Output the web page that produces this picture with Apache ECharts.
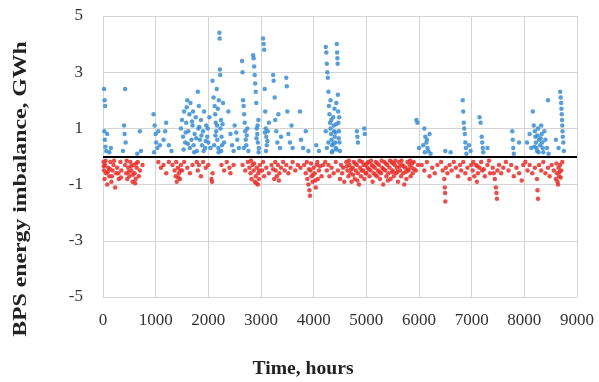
<!DOCTYPE html>
<html>
<head>
<meta charset="utf-8">
<script src="https://cdn.jsdelivr.net/npm/echarts@6/dist/echarts.min.js"></script>
<style>
  html, body { margin: 0; padding: 0; background: #fff; }
  #chart { width: 599px; height: 382px; }
</style>
</head>
<body>
<div id="chart"></div>
<script>
// hours, GWh (surplus, blue)
var surplus = [
  [20,2.4],[30,2.0],[40,1.8],[25,0.9],[35,0.6],[45,0.35],[60,0.2],[80,0.8],[120,0.15],[150,0.3],
  [420,2.4],[400,1.1],[410,0.8],[430,0.5],[380,0.2],
  [700,0.9],[720,0.2],[650,0.1],
  [960,1.5],[980,1.1],[1000,0.8],[1010,0.5],[1030,0.3],[970,0.15],[1050,0.9],[1080,0.4],
  [1200,1.2],[1150,0.6],[1250,0.4],[1300,0.2],[1180,0.9],
  [1480,1.0],[1500,1.3],[1520,0.7],[1540,1.6],[1560,0.5],[1580,1.2],[1600,2.0],[1620,0.9],[1640,1.5],
  [1650,0.3],[1660,1.9],[1680,0.6],[1700,1.1],[1720,0.4],[1740,0.8],[1760,1.4],[1780,0.2],[1800,2.3],
  [1810,1.0],[1820,1.8],[1840,0.6],[1860,1.3],[1880,0.4],[1900,0.9],[1920,1.6],[1940,0.3],[1960,1.1],
  [1980,0.7],[2000,0.5],[2020,1.4],
  [1530,0.25],[1570,0.85],[1610,0.45],[1690,1.25],[1730,0.15],[1770,0.65],[1830,1.05],[1870,0.75],
  [1910,0.2],[1950,0.55],[1990,1.0],[2040,0.3],[1590,1.75],[1710,1.6],
  [2080,2.7],[2100,2.1],[2120,1.8],[2130,1.5],[2140,1.2],[2150,0.9],[2160,2.4],[2170,0.6],[2180,1.7],
  [2190,0.3],[2200,2.0],[2210,4.4],[2215,4.2],[2220,3.1],[2225,2.9],[2230,1.0],[2240,1.3],[2250,0.7],
  [2260,0.4],[2280,1.9],[2300,0.5],[2110,0.4],[2135,0.75],[2165,1.1],[2195,0.15],[2245,0.2],[2270,1.15],
  [2380,1.6],[2420,0.8],[2450,0.4],[2500,1.1],[2550,0.6],[2580,0.3],[2480,0.2],[2530,0.85],
  [2640,3.4],[2650,3.0],[2660,2.0],[2670,1.8],[2680,1.5],[2690,1.2],[2700,0.9],[2710,0.6],[2720,0.4],
  [2740,1.0],[2760,0.2],[2675,0.3],[2730,0.75],
  [2850,3.6],[2860,3.5],[2870,3.2],[2880,2.9],[2890,2.6],[2900,2.3],[2910,1.9],[2920,1.0],[2930,0.8],
  [2940,0.5],[2950,1.3],[2960,0.3],[2915,0.65],[2935,1.1],[2955,0.15],
  [3040,4.2],[3050,4.0],[3060,3.8],[3070,2.4],[3080,1.6],[3090,1.0],[3100,0.7],[3110,0.4],[3130,0.9],[3150,1.2],
  [3075,0.85],[3095,0.2],[3120,0.55],
  [3230,2.9],[3240,2.7],[3260,2.1],[3270,1.3],[3290,0.9],[3310,0.5],[3330,1.5],[3360,0.3],[3380,0.7],
  [3480,2.8],[3490,2.5],[3500,1.6],[3520,0.8],[3550,0.5],[3580,1.1],[3600,0.3],
  [3740,1.6],[3760,0.6],[3800,0.3],[3850,0.9],[3900,0.2],
  [4050,0.4],[4100,0.2],
  [4230,3.9],[4240,3.7],[4250,3.3],[4260,3.0],[4270,2.8],[4280,2.3],[4290,1.8],[4300,1.5],[4310,1.2],
  [4320,1.0],[4330,0.8],[4340,0.6],[4350,0.4],[4360,0.2],[4370,1.4],[4380,1.1],[4390,0.9],[4400,0.7],
  [4410,0.5],[4420,0.3],[4430,1.9],[4440,4.0],[4445,3.7],[4450,3.5],[4455,3.3],[4460,2.2],[4465,1.6],
  [4470,1.2],[4480,0.9],[4490,0.5],[4500,0.2],[4230,0.9],[4250,0.3],[4320,2.0],[4280,0.5],
  [4335,1.3],[4345,0.15],[4375,0.45],[4395,1.7],[4415,0.85],[4425,1.15],[4435,0.25],[4475,0.65],[4485,1.4],
  [4820,0.9],[4830,0.7],[4840,0.5],[4960,1.0],[4970,0.8],
  [5950,1.3],[5970,1.2],[6000,0.3],[6100,1.0],[6120,0.7],[6140,0.5],[6160,0.3],[6180,0.2],[6200,0.8],
  [6220,0.1],[6080,0.4],[6110,0.15],[6150,0.6],
  [6500,0.2],[6600,0.15],
  [6830,2.0],[6840,1.6],[6850,1.2],[6860,1.0],[6870,0.8],[6880,0.5],[6890,0.3],[6900,0.1],[6950,0.4],[6980,0.2],
  [7150,1.4],[7170,1.2],[7190,0.7],[7200,0.5],[7210,0.3],[7220,0.15],[7300,0.3],
  [7770,0.9],[7780,0.6],[7790,0.3],[7800,0.1],[7900,0.5],
  [8050,0.5],[8100,0.8],[8130,0.3],[8160,1.6],[8180,1.1],[8200,0.9],[8210,0.7],[8220,0.5],[8230,0.3],
  [8240,0.2],[8260,1.0],[8280,0.6],[8300,0.4],[8320,1.1],[8330,0.8],[8340,0.5],[8350,0.3],[8360,0.15],
  [8380,0.9],[8400,0.6],[8450,2.0],[8430,0.3],[8460,0.1],[8190,0.35],[8250,0.75],[8270,0.15],[8310,0.65],
  [8680,2.3],[8690,2.1],[8700,1.9],[8705,1.7],[8710,1.5],[8715,1.3],[8720,1.1],[8725,0.9],[8730,0.7],
  [8740,0.5],[8750,0.2],[8650,0.3],[8600,0.6]
];

// hours, GWh (deficit, red)
var deficit = [
  [10,-0.2],[20,-0.5],[30,-0.8],[40,-0.3],[60,-0.6],[80,-1.0],[100,-0.4],[120,-0.7],[140,-0.2],[160,-0.9],
  [180,-0.5],[200,-0.3],[230,-1.1],[250,-0.6],[270,-0.4],[300,-0.8],[330,-0.2],[350,-0.5],
  [15,-0.35],[50,-0.15],[90,-0.55],[130,-0.45],[170,-0.7],[210,-0.15],[290,-0.6],[340,-0.75],
  [420,-0.3],[440,-0.6],[460,-0.8],[480,-0.4],[500,-0.7],[520,-0.2],[540,-0.5],[560,-0.9],[580,-0.3],
  [600,-0.6],[620,-0.8],[640,-0.4],[660,-0.2],[700,-0.5],[750,-0.3],
  [450,-0.15],[490,-0.55],[530,-0.35],[570,-0.65],[610,-0.95],[630,-0.25],[680,-0.7],
  [1050,-0.2],[1100,-0.4],[1150,-0.3],[1200,-0.6],[1250,-0.2],
  [1320,-0.3],[1360,-0.5],[1380,-0.7],[1400,-0.9],[1420,-0.4],[1440,-0.6],[1460,-0.8],[1480,-0.3],
  [1500,-0.5],[1540,-0.2],[1600,-0.4],[1650,-0.6],[1700,-0.3],[1390,-0.2],[1430,-0.75],[1470,-0.5],
  [1780,-0.2],[1800,-0.5],[1820,-0.3],[1860,-0.7],[1900,-0.2],[1950,-0.4],[2000,-0.3],[2060,-0.8],
  [2070,-0.9],[2080,-0.6],
  [2250,-0.3],[2300,-0.5],[2350,-0.2],[2400,-0.4],[2420,-0.6],[2480,-0.3],
  [2650,-0.3],[2700,-0.5],[2750,-0.2],[2780,-0.4],[2800,-0.6],[2820,-0.8],[2840,-0.3],[2860,-0.5],
  [2880,-0.9],[2900,-0.7],[2920,-0.4],[2940,-1.0],[2950,-0.6],[2960,-0.8],[2980,-0.3],
  [2810,-0.15],[2870,-0.25],[2910,-0.95],[2970,-0.5],
  [3020,-0.5],[3040,-0.2],[3060,-0.7],[3100,-0.4],[3150,-0.6],[3200,-0.3],[3250,-0.8],[3280,-0.5],
  [3300,-0.7],[3320,-0.3],[3350,-0.6],[3380,-0.4],[3230,-0.45],[3270,-0.2],[3340,-0.85],
  [3420,-0.2],[3450,-0.5],[3480,-0.3],[3520,-0.6],[3560,-0.4],[3600,-0.2],[3650,-0.5],[3700,-0.3],[3750,-0.4],
  [3820,-0.3],[3850,-0.6],[3880,-0.8],[3900,-1.0],[3920,-1.2],[3930,-1.4],[3940,-0.5],[3960,-0.7],
  [3980,-0.9],[4000,-0.4],[4020,-0.6],[4040,-1.1],[4060,-0.3],[4080,-0.8],[4100,-0.5],[4150,-0.7],[4180,-0.3],
  [3870,-0.2],[3910,-0.45],[3950,-0.25],[3990,-0.65],[4030,-0.85],[4070,-0.2],[4120,-0.35],
  [4220,-0.2],[4250,-0.5],[4280,-0.3],[4300,-0.7],[4340,-0.4],[4380,-0.6],[4420,-0.2],[4460,-0.5],
  [4500,-0.8],[4520,-0.3],[4540,-0.6],[4560,-0.4],[4580,-0.9],
  [4620,-0.2],[4640,-0.5],[4660,-0.7],[4680,-0.3],[4700,-0.6],[4720,-0.9],[4740,-0.4],[4760,-0.2],
  [4780,-0.8],[4800,-0.5],[4820,-0.3],[4840,-0.6],[4860,-1.0],[4880,-0.4],[4900,-0.7],[4920,-0.2],
  [4940,-0.5],[4960,-0.8],[4980,-0.3],
  [4630,-0.35],[4670,-0.15],[4710,-0.45],[4750,-0.65],[4790,-0.25],[4830,-0.85],[4870,-0.15],[4910,-0.5],
  [4950,-0.3],[4990,-0.6],
  [5000,-0.6],[5020,-0.4],[5040,-0.2],[5060,-0.7],[5080,-0.5],[5100,-0.3],[5120,-0.9],[5140,-0.6],
  [5160,-0.4],[5180,-0.2],[5200,-0.7],[5220,-0.5],[5240,-0.3],[5260,-0.8],[5280,-0.6],[5300,-0.4],
  [5320,-1.0],[5340,-0.2],[5360,-0.5],[5380,-0.7],[5400,-0.3],[5420,-0.6],[5440,-0.4],[5460,-0.8],[5480,-0.2],
  [5010,-0.25],[5050,-0.45],[5090,-0.15],[5130,-0.35],[5170,-0.65],[5210,-0.25],[5250,-0.55],[5290,-0.15],
  [5330,-0.45],[5370,-0.25],[5410,-0.85],[5450,-0.15],[5490,-0.55],
  [5500,-0.5],[5520,-0.7],[5540,-0.3],[5560,-0.6],[5580,-0.4],[5600,-0.9],[5620,-0.2],[5640,-0.5],
  [5660,-0.7],[5680,-0.3],[5700,-0.6],[5720,-1.0],[5740,-0.4],[5760,-0.8],[5780,-0.2],[5800,-0.5],
  [5820,-0.3],[5840,-0.7],[5860,-0.4],[5880,-0.6],[5900,-0.2],[5940,-0.5],[5980,-0.3],
  [5510,-0.25],[5550,-0.15],[5590,-0.55],[5630,-0.35],[5670,-0.15],[5710,-0.35],[5750,-0.55],[5790,-0.45],
  [5830,-0.15],[5870,-0.25],[5910,-0.45],
  [6050,-0.3],[6100,-0.5],[6150,-0.2],[6200,-0.7],[6250,-0.4],[6300,-0.6],[6350,-0.3],
  [6420,-0.2],[6450,-0.5],[6480,-0.8],[6490,-1.1],[6495,-1.3],[6500,-1.6],[6510,-0.4],[6540,-0.6],
  [6580,-0.3],[6620,-0.5],[6660,-0.2],
  [6700,-0.4],[6740,-0.7],[6780,-0.3],[6800,-0.5],[6840,-0.2],[6880,-0.6],[6920,-0.4],[6960,-0.8],[6990,-0.3],
  [7020,-0.5],[7050,-0.7],[7080,-0.3],[7100,-0.9],[7120,-0.6],[7150,-0.4],[7180,-0.2],[7200,-0.5],
  [7250,-0.7],[7300,-0.3],[7350,-0.6],[7400,-0.4],[7440,-0.8],[7460,-1.1],[7470,-1.3],[7480,-1.5],[7490,-0.5],
  [7030,-0.2],[7110,-0.35],[7230,-0.45],[7330,-0.15],[7420,-0.6],
  [7520,-0.3],[7560,-0.6],[7600,-0.4],[7650,-0.2],[7700,-0.5],[7750,-0.3],[7800,-0.7],[7850,-0.4],
  [7900,-0.6],[7950,-0.85],[7980,-0.3],
  [8020,-0.2],[8060,-0.5],[8100,-0.3],[8150,-0.6],[8200,-0.4],[8240,-0.8],[8250,-1.2],[8260,-1.5],
  [8280,-0.3],[8320,-0.5],[8360,-0.2],[8400,-0.6],[8450,-0.4],[8480,-0.7],
  [8520,-0.3],[8560,-0.5],[8600,-0.8],[8620,-0.6],[8640,-1.0],[8650,-0.4],[8660,-0.7],[8680,-0.3],
  [8700,-0.5],[8720,-0.2],[8610,-0.25],[8630,-0.9],[8670,-0.55],[8690,-0.75]
];

var xTicks = [0, 9000, 1000];   // min, max, step
var yTicks = [-5, 5, 2];

var font = "'Liberation Serif', 'Times New Roman', serif";

var chart = echarts.init(document.getElementById("chart"));
var option = {
  animation: false,
  grid: { left: 103, right: 22, top: 16, bottom: 85 },
  xAxis: {
    type: "value",
    min: xTicks[0], max: xTicks[1], interval: xTicks[2],
    axisLine: { show: false },
    axisTick: { show: false },
    axisLabel: {
      fontFamily: font, fontSize: 17, color: "#333", margin: 15,
      formatter: function (v) { return String(v); }
    },
    splitLine: { lineStyle: { color: "#d4d4d4", width: 1 } }
  },
  yAxis: {
    type: "value",
    min: yTicks[0], max: yTicks[1], interval: yTicks[2],
    axisLine: { show: false },
    axisTick: { show: false },
    axisLabel: { fontFamily: font, fontSize: 17, color: "#333", margin: 20 },
    splitLine: { lineStyle: { color: "#d4d4d4", width: 1 } }
  },
  graphic: [
    {
      type: "text",
      x: 21, y: 189,
      rotation: Math.PI / 2,
      scaleX: 1.25,
      style: {
        text: "BPS energy imbalance, GWh",
        font: "bold 19px " + font,
        fill: "#222",
        align: "center",
        verticalAlign: "middle"
      }
    },
    {
      type: "text",
      x: 303, y: 369,
      scaleX: 1.09,
      style: {
        text: "Time, hours",
        font: "bold 18px " + font,
        fill: "#222",
        align: "center",
        verticalAlign: "middle"
      }
    }
  ],
  series: [
    {
      name: "surplus",
      type: "scatter",
      data: surplus,
      symbolSize: 4.5,
      itemStyle: { color: "#3b8ed2", opacity: 0.85 }
    },
    {
      name: "deficit",
      type: "scatter",
      data: deficit,
      symbolSize: 4.5,
      itemStyle: { color: "#e8302c", opacity: 0.85 },
      // zero line
      markLine: {
        silent: true,
        symbol: "none",
        label: { show: false },
        lineStyle: { color: "#000", width: 2, type: "solid" },
        data: [{ yAxis: 0 }]
      }
    }
  ]
};
chart.setOption(option);
</script>
</body>
</html>
